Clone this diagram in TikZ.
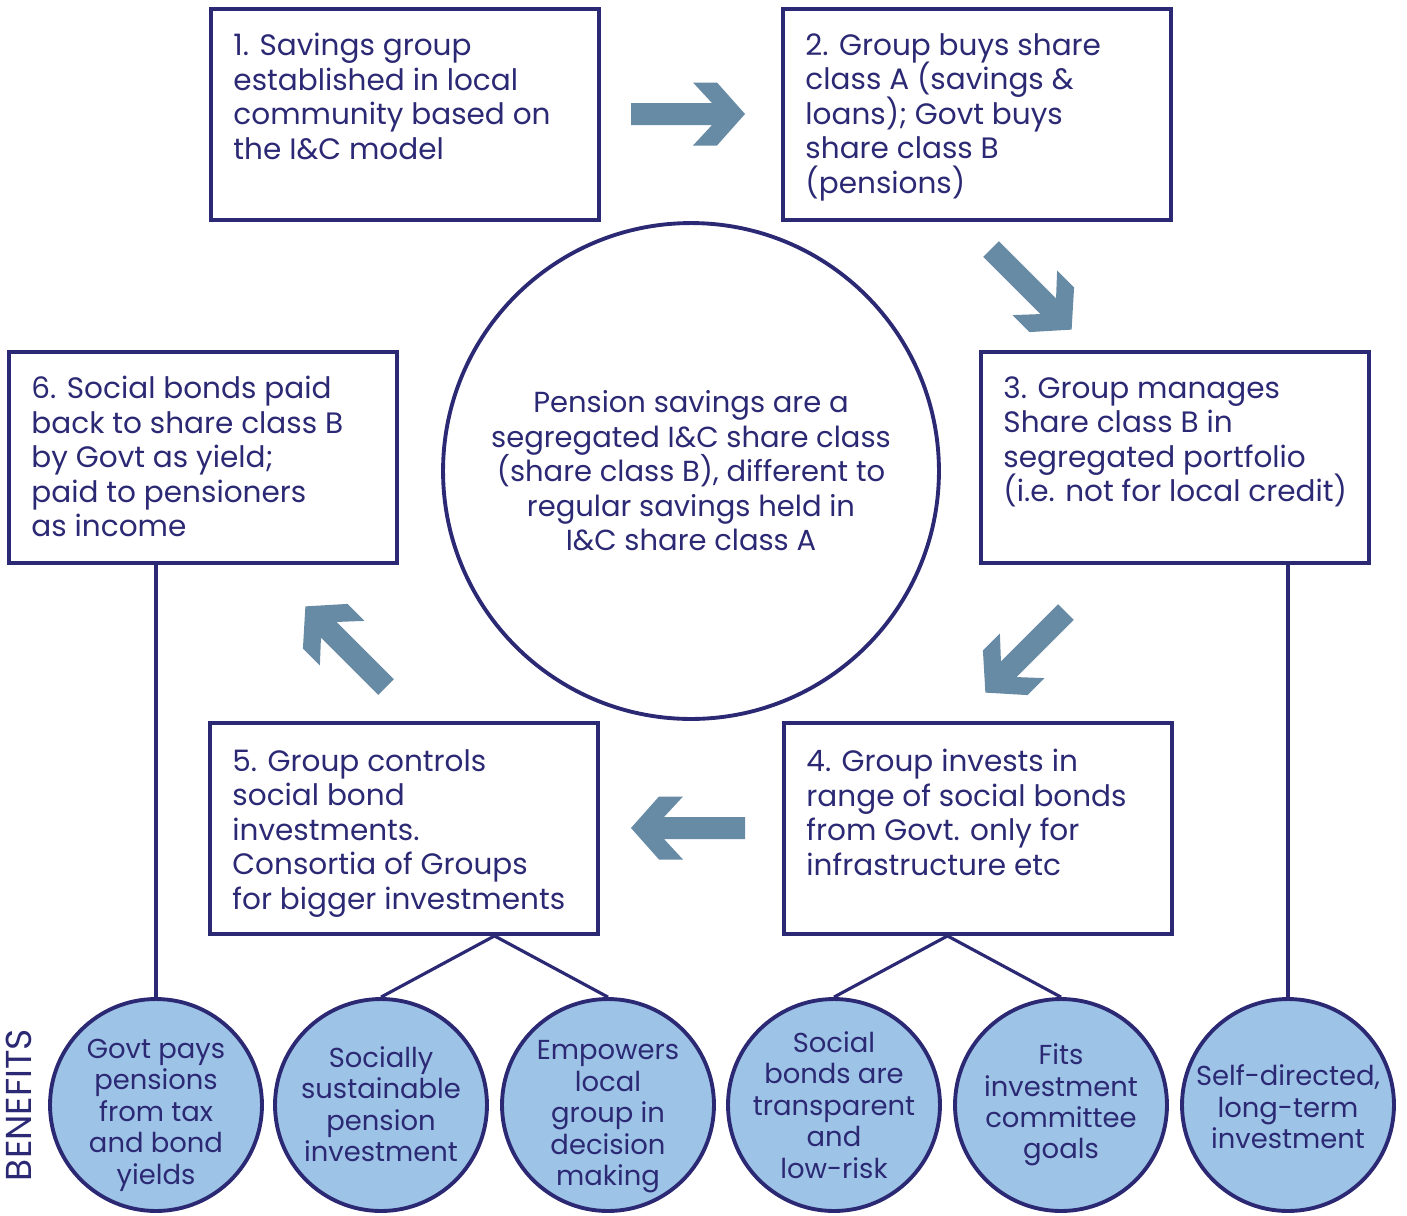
\documentclass[tikz,border=0pt]{standalone}
\usepackage{fontspec}
\setmainfont{Poppins}
\usetikzlibrary{calc}
\definecolor{navy}{RGB}{44,41,116}
\definecolor{arrowblue}{RGB}{104,139,165}
\definecolor{benefitblue}{RGB}{157,195,230}
% fixed baselines, whatever the glyphs
\newcommand\tightlines{\lineskiplimit=-20pt\relax}

\begin{document}
\begin{tikzpicture}[
x=0.02cm, y=-0.02cm,
stagebox/.style={
	% The shape:
	rectangle, minimum width=7.76cm, minimum height=4.22cm,
	% The border:
	line width=2.2pt, draw=navy},
stagetext/.style={
	anchor=north west, inner sep=0pt, align=left,
	text=navy, font=\fontsize{16.8}{19.6}\selectfont\tightlines},
benefit/.style={
	circle, minimum size=4.24cm, inner sep=0pt,
	line width=2.2pt, draw=navy, fill=benefitblue},
benefittext/.style={
	inner sep=0pt, align=center,
	text=navy, font=\fontsize{15.6}{17.9}\selectfont\tightlines},
link/.style={line width=1.8pt, draw=navy},
flowarrow/.pic={
	\fill[arrowblue] (0,-11) -- (81,-11) -- (62,-31.5) -- (86,-31.5) -- (114,0)
	  -- (86,31.5) -- (62,31.5) -- (81,11) -- (0,11) -- cycle;},
]
\useasboundingbox (0,0) rectangle (1407,1215);

% the six stages
\node (s1) [stagebox] at (405,114.5) {};
\node (s2) [stagebox] at (977,114.5) {};
\node (s3) [stagebox] at (1175,457.5) {};
\node (s4) [stagebox] at (978,828.5) {};
\node (s5) [stagebox] at (404,828.5) {};
\node (s6) [stagebox] at (203,457.5) {};

\node (s1text) [stagetext] at ($(s1.north west)+(24,26)$) {1. Savings group\\established in local\\community based on\\the I\&C model};
\node (s2text) [stagetext] at ($(s2.north west)+(24,26)$) {2. Group buys share\\class A (savings \&\\loans); Govt buys\\share class B\\(pensions)};
\node (s3text) [stagetext] at ($(s3.north west)+(24,26)$) {3. Group manages\\Share class B in\\segregated portfolio\\(i.e. not for local credit)};
\node (s4text) [stagetext] at ($(s4.north west)+(24,28)$) {4. Group invests in\\range of social bonds\\from Govt. only for\\infrastructure etc};
\node (s5text) [stagetext] at ($(s5.north west)+(24,28)$) {5. Group controls\\social bond\\investments.\\Consortia of Groups\\for bigger investments};
\node (s6text) [stagetext] at ($(s6.north west)+(24,26)$) {6. Social bonds paid\\back to share class B\\by Govt as yield;\\paid to pensioners\\as income};

\node (core) [circle, minimum size=9.92cm, line width=2.2pt, draw=navy,
  align=center, text=navy, font=\fontsize{16.5}{19.6}\selectfont\tightlines] at (691,471)
  {Pension savings are a\\segregated I\&C share class\\(share class B), different to\\regular savings held in\\I\&C share class A};

% block arrows round the cycle
\pic at (631,114) {flowarrow};
\pic[rotate=-45] at (991,249) {flowarrow};
\pic[rotate=-135] at (1066,612) {flowarrow};
\pic[rotate=180] at (745,828) {flowarrow};
\pic[rotate=135] at (386,687) {flowarrow};

% benefits
\node (benefits) [rotate=90, text=navy, font=\fontsize{20.5}{22}\selectfont] at (19,1105) {BENEFITS};
\foreach \name/\x in {b1/156, b2/381, b3/608, b4/834, b5/1061, b6/1288}
	\node (\name) [benefit] at (\x,1105) {};
\node (b1text) [benefittext] at ($(b1)+(0,10)$) {Govt pays\\pensions\\from tax\\and bond\\yields};
\node (b2text) [benefittext] at ($(b2)+(0,-1)$) {Socially\\sustainable\\pension\\investment};
\node (b3text) [benefittext] at ($(b3)+(0,12)$) {Empowers\\local\\group in\\decision\\making};
\node (b4text) [benefittext] at (b4) {Social\\bonds are\\transparent\\and\\low-risk};
\node (b5text) [benefittext] at (b5) {Fits\\investment\\committee\\goals};
\node (b6text) [benefittext] at ($(b6)+(0,2)$) {Self-directed,\\long-term\\investment};

\coordinate (j5) at ($(b2.north)!0.5!(b3.north)$);
\coordinate (j4) at ($(b4.north)!0.5!(b5.north)$);
\draw[link] (b1.north |- s6.south) -- (b1.north);
\draw[link] (b6.north |- s3.south) -- (b6.north);
\draw[link] (b2.north) -- (j5 |- s5.south) -- (b3.north);
\draw[link] (b4.north) -- (j4 |- s4.south) -- (b5.north);

\end{tikzpicture}
\end{document}
